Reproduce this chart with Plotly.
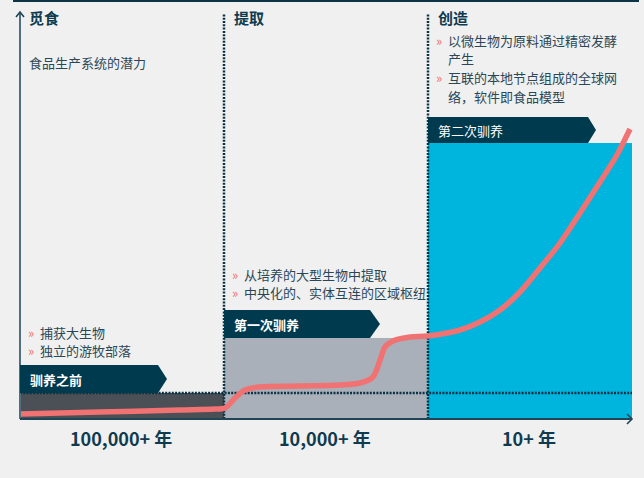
import plotly.graph_objects as go

# ---- data -------------------------------------------------------------
stage_titles = ["觅食", "提取", "创造"]
stage_periods = ["100,000+ 年", "10,000+ 年", "10+ 年"]
stage_eras = ["驯养之前", "第一次驯养", "第二次驯养"]
stage_levels = [26, 81, 276]          # potential reached by each stage
baseline_level = 26
stage_notes = [
    ["捕获大生物", "独立的游牧部落"],
    ["从培养的大型生物中提取", "中央化的、实体互连的区域枢纽"],
    ["以微生物为原料通过精密发酵\n产生", "互联的本地节点组成的全球网\n络，软件即食品模型"],
]
axis_title = "食品生产系统的潜力"

# potential curve over time (x in stage units, 0..3)
curve_t = [0.0, 0.392, 0.784, 0.956, 1.005, 1.054, 1.103, 1.176, 1.373, 1.569,
           1.667, 1.730, 1.765, 1.789, 1.828, 1.912, 2.0, 2.157, 2.255, 2.353,
           2.451, 2.549, 2.647, 2.745, 2.843, 2.926, 2.990]
curve_v = [5, 7, 9, 10, 11, 21, 29, 32, 33, 34,
           36, 42, 59, 72, 78, 82, 83, 89, 97, 109,
           127, 151, 176, 206, 237, 264, 290]

# ---- styling ----------------------------------------------------------
W, H = 644, 478
X0, STAGE_W = 20, 204      # left edge of stage 0 and width of one stage (px)
Y0 = 419                   # baseline pixel row
FONT = "Noto Sans CJK SC"
BG = "#f0f0f0"
NAVY = "#003a4e"
DARK = "#0e3b4f"
TEXT = "#2a4757"
SALMON = "#f07272"
BAR_COLORS = ["#4b4f56", "#a9b0ba", "#00b5dd"]


def X(px):
    return (px - X0) / STAGE_W


def V(py):
    return Y0 - py


fig = go.Figure()

# stage blocks
fig.add_trace(go.Bar(
    x=[i + 0.5 for i in range(len(stage_levels))], y=stage_levels, width=1,
    marker=dict(color=BAR_COLORS, line=dict(width=0)), hoverinfo="skip",
    showlegend=False))

# dotted guides
dot = dict(color="#0a3143", width=2.5, dash="2px,1.3px")
fig.add_trace(go.Scatter(x=[0, 3], y=[baseline_level, baseline_level], mode="lines",
                         line=dot, hoverinfo="skip", showlegend=False))
for b in (1, 2):
    fig.add_trace(go.Scatter(x=[b, b], y=[0, V(13)], mode="lines",
                             line=dot, hoverinfo="skip", showlegend=False))

# potential curve
fig.add_trace(go.Scatter(x=curve_t, y=curve_v, mode="lines",
                         line=dict(color=SALMON, width=5.5, shape="spline", smoothing=0.9),
                         hoverinfo="skip", showlegend=False))

shapes = []
# top rule
shapes.append(dict(type="line", x0=X(13), x1=X(639), y0=V(1), y1=V(1),
                   line=dict(color="#0d3446", width=2)))
# vertical axis with arrow head
shapes.append(dict(type="line", x0=0, x1=0, y0=0, y1=V(12),
                   line=dict(color="#4f6f7e", width=2)))
shapes.append(dict(type="path",
                   path=f"M {X(16)} {V(17)} L {X(20)} {V(12)} L {X(24)} {V(17)}",
                   line=dict(color="#1f4556", width=1.6)))
# horizontal axis with arrow head
shapes.append(dict(type="line", x0=0, x1=3, y0=0, y1=0,
                   line=dict(color="#1f4556", width=2)))
shapes.append(dict(type="path",
                   path=f"M {X(627)} {V(414)} L {X(632)} {V(419)} L {X(627)} {V(424)}",
                   line=dict(color="#1f4556", width=1.6)))

# era banners sitting on top of each block
banner_len = [138, 146, 160]
banner_tip = [9, 10, 8]
banner_h = [28, 28, 26]
for i, lvl in enumerate(stage_levels):
    x0 = i
    x1 = i + banner_len[i] / STAGE_W
    xt = x1 + banner_tip[i] / STAGE_W
    y0, y1 = lvl, lvl + banner_h[i]
    shapes.append(dict(type="path",
                       path=f"M {x0} {y0} L {x1} {y0} L {xt} {(y0 + y1) / 2} L {x1} {y1} L {x0} {y1} Z",
                       fillcolor=NAVY, line=dict(width=0), layer="above"))

annotations = []


def label(px, py, text, size, color, bold=False, anchor="left"):
    annotations.append(dict(
        x=X(px), y=V(py), text=f"<b>{text}</b>" if bold else text,
        xanchor=anchor, yanchor="middle", showarrow=False,
        font=dict(family=FONT, size=size, color=color)))


for i, lvl in enumerate(stage_levels):
    left = X0 + i * STAGE_W
    # stage title
    label(left + 7 + (1 if i else 0), 17, stage_titles[i], 15, DARK, bold=True)
    # era banner caption
    mid = Y0 - lvl - banner_h[i] / 2
    label(left + 8, mid, stage_eras[i], 13, "#ffffff", bold=(i < 2))
    # period under the axis
    label(left + STAGE_W / 2 - 1, 438, stage_periods[i], 18, DARK, bold=True, anchor="center")

label(27, 62, axis_title, 13, TEXT)

# bullet notes
note_top = [332, 274, 40]
line_gap = 18.8
for i, notes in enumerate(stage_notes):
    left = X0 + i * STAGE_W
    row = 0
    for note in notes:
        for j, part in enumerate(note.split("\n")):
            py = note_top[i] + row * line_gap
            if j == 0:
                label(left + 6, py, "»", 13, SALMON)
            label(left + 18, py, part, 13, TEXT)
            row += 1

fig.update_layout(
    width=W, height=H,
    margin=dict(l=0, r=0, t=0, b=0),
    paper_bgcolor=BG, plot_bgcolor=BG,
    bargap=0,
    xaxis=dict(range=[X(0), X(W)], visible=False, fixedrange=True),
    yaxis=dict(range=[V(H), V(0)], visible=False, fixedrange=True),
    shapes=shapes, annotations=annotations,
    showlegend=False,
)

fig.write_html("out.html")
